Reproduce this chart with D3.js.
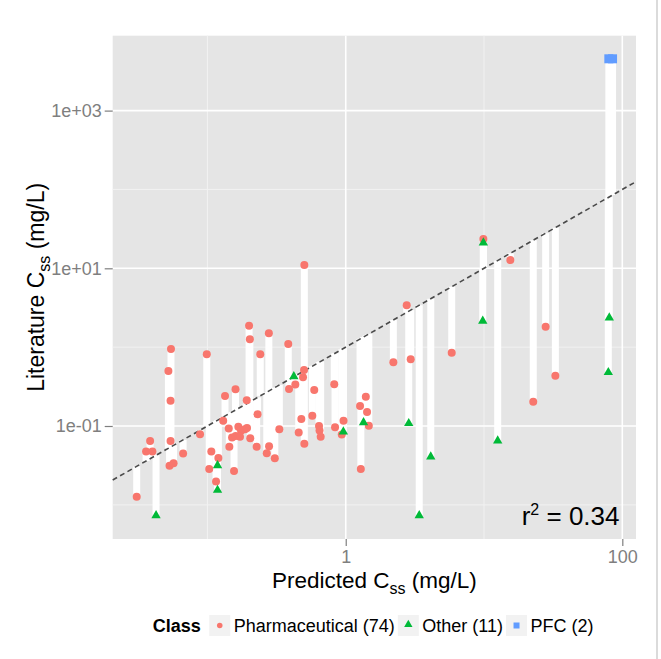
<!DOCTYPE html>
<html><head><meta charset="utf-8">
<script src="https://cdn.jsdelivr.net/npm/d3@7"></script>
<style>body{margin:0;background:#fff}svg{display:block}text{font-family:"Liberation Sans",Arial,sans-serif}</style>
</head><body><svg id="c" width="661" height="659"></svg>
<script>
// ---- data (Predicted Css vs Literature Css, mg/L) ----
const pharmaPred = [0.0308,0.0385,0.036,0.040,0.0545,0.0522,0.0541,0.0541,0.0532,0.0569,
  0.0667,0.0989,0.0884,0.1067,0.103,0.120,0.1154,0.134,0.130,0.1426,
  0.1507,0.144,0.1596,0.1557,0.200,0.2026,0.278,0.241,0.1924,0.2303,
  0.1673,0.187,0.175,0.160,0.172,0.204,0.227,0.279,0.2685,0.307,
  0.331,0.384,0.502,0.4995,0.491,0.432,0.389,0.592,0.4775,0.5734,
  0.457,0.502,0.826,0.641,0.6465,0.659,0.837,0.964,0.936,1.397,
  1.269,1.426,1.469,1.286,2.76,2.21,2.95,5.84,9.89,15.5,
  22.7,27.9,32.8,0.1933];
const pharmaLit = [0.01268,0.0645,0.0475,0.0475,0.947,0.498,0.209,0.0645,0.0314,0.0336,
  0.0448,0.812,0.0787,0.0475,0.0285,0.0393,0.0198,0.240,0.1168,0.0929,
  0.0715,0.0546,0.293,0.0269,1.87,1.258,1.498,0.812,0.212,0.1407,
  0.098,0.0908,0.0872,0.0747,0.0732,0.0698,0.0546,0.0553,0.0451,0.039,
  0.0911,1.096,11.0,0.513,0.416,0.336,0.2946,0.286,0.1227,0.135,
  0.0827,0.0596,0.338,0.1,0.0877,0.0732,0.0963,0.1168,0.078,0.2353,
  0.1794,0.1506,0.1009,0.0285,3.39,0.642,0.701,0.85,23.5,12.7,
  0.203,1.817,0.4345,0.0943];
const otherPred = [0.0425,0.1183,0.1183,0.4215,0.961,1.345,2.855,3.40,4.12,9.89,9.79,12.56,80.5,79.2];
const otherLit  = [0.00733,0.0316,0.0154,0.4245,0.0847,0.1108,0.1082,0.00733,0.0408,21.1,2.147,0.0651,2.363,0.480];
const pfcPred = [79.9,85.0];
const pfcLit  = [4540,4540];

const classNames = ["Pharmaceutical (74)","Other (11)","PFC (2)"];
const classColors = ["#F8766D","#00BA38","#619CFF"];
const xMajor = [1,100], xMajorLabels = ["1","100"];
const xMinor = [0.1,10];
const yMajor = [0.1,10,1000], yMajorLabels = ["1e-01","1e+01","1e+03"];
const yMinor = [0.01,1,100];
const r2Value = "0.34";

// ---- layout ----
const svg = d3.select("#c");
const P = {l:112.7, r:636, t:35.7, b:539};
const x = d3.scaleLog().domain([0.02065,125.6]).range([P.l,P.r]);
const y = d3.scaleLog().domain([0.003689,8913]).range([P.b,P.t]);

svg.append("rect").attr("width",661).attr("height",659).attr("fill","#fff");
svg.append("line").attr("x1",657).attr("x2",657).attr("y1",0).attr("y2",659)
  .attr("stroke","#cfcfcf").attr("stroke-width",1.5);

// panel
svg.append("rect").attr("x",P.l).attr("y",P.t).attr("width",P.r-P.l).attr("height",P.b-P.t).attr("fill","#E5E5E5");
const grid = svg.append("g");
grid.selectAll(".vmin").data(xMinor).join("line").attr("x1",d=>x(d)).attr("x2",d=>x(d)).attr("y1",P.t).attr("y2",P.b)
  .attr("stroke","#F2F2F2").attr("stroke-width",1);
grid.selectAll(".hmin").data(yMinor).join("line").attr("y1",d=>y(d)).attr("y2",d=>y(d)).attr("x1",P.l).attr("x2",P.r)
  .attr("stroke","#F2F2F2").attr("stroke-width",1);
grid.selectAll(".vmaj").data(xMajor).join("line").attr("x1",d=>x(d)).attr("x2",d=>x(d)).attr("y1",P.t).attr("y2",P.b)
  .attr("stroke","#fff").attr("stroke-width",1.6);
grid.selectAll(".hmaj").data(yMajor).join("line").attr("y1",d=>y(d)).attr("y2",d=>y(d)).attr("x1",P.l).attr("x2",P.r)
  .attr("stroke","#fff").attr("stroke-width",1.6);

// combined data
const pts = [];
pharmaPred.forEach((v,i)=>pts.push({p:v,l:pharmaLit[i],c:0}));
otherPred.forEach((v,i)=>pts.push({p:v,l:otherLit[i],c:1}));
pfcPred.forEach((v,i)=>pts.push({p:v,l:pfcLit[i],c:2}));

// residual bars to identity line
svg.append("g").selectAll("line").data(pts).join("line")
  .attr("x1",d=>x(d.p)).attr("x2",d=>x(d.p)).attr("y1",d=>y(d.l)).attr("y2",d=>y(d.p))
  .attr("stroke","#fff").attr("stroke-width",7);

// identity line
const dom = x.domain();
svg.append("line").attr("x1",x(dom[0])).attr("y1",y(dom[0])).attr("x2",x(dom[1])).attr("y2",y(dom[1]))
  .attr("stroke","#4a4a4a").attr("stroke-width",1.6).attr("stroke-dasharray","5,3.5");

// points
const g = svg.append("g");
g.selectAll(".ph").data(pts.filter(d=>d.c===0)).join("circle")
  .attr("cx",d=>x(d.p)).attr("cy",d=>y(d.l)).attr("r",4).attr("fill",classColors[0]);
g.selectAll(".ot").data(pts.filter(d=>d.c===1)).join("path")
  .attr("transform",d=>`translate(${x(d.p)},${y(d.l)})`)
  .attr("d",d3.symbol(d3.symbolTriangle,38)).attr("fill",classColors[1]);
g.selectAll(".pf").data(pts.filter(d=>d.c===2)).join("path")
  .attr("transform",d=>`translate(${x(d.p)},${y(d.l)})`)
  .attr("d",d3.symbol(d3.symbolSquare,81)).attr("fill",classColors[2]);

// axes
const ax = svg.append("g").attr("transform",`translate(0,${P.b})`)
  .call(d3.axisBottom(x).tickValues(xMajor).tickFormat((d,i)=>xMajorLabels[i]).tickSize(7).tickPadding(4));
const ay = svg.append("g").attr("transform",`translate(${P.l},0)`)
  .call(d3.axisLeft(y).tickValues(yMajor).tickFormat((d,i)=>yMajorLabels[i]).tickSize(8).tickPadding(3));
[ax,ay].forEach(a=>{
  a.select(".domain").remove();
  a.selectAll("line").attr("stroke","#7F7F7F").attr("stroke-width",1.2);
  a.selectAll("text").attr("fill","#7F7F7F").style("font-size","18px").style("font-family","Liberation Sans, Arial, sans-serif");
});

// axis titles
const xt = svg.append("text").attr("x",(P.l+P.r)/2).attr("y",588).attr("text-anchor","middle")
  .style("font-size","22.5px").attr("fill","#000");
xt.append("tspan").text("Predicted C");
xt.append("tspan").attr("dy",6).style("font-size","16px").text("ss");
xt.append("tspan").attr("dy",-6).text(" (mg/L)");

const yt = svg.append("text").attr("transform",`translate(44,${(P.t+P.b)/2}) rotate(-90)`).attr("text-anchor","middle")
  .style("font-size","23px").attr("fill","#000");
yt.append("tspan").text("Literature C");
yt.append("tspan").attr("dy",6).style("font-size","16px").text("ss");
yt.append("tspan").attr("dy",-6).text(" (mg/L)");

// r^2 annotation
const rt = svg.append("text").attr("x",619.5).attr("y",525).attr("text-anchor","end").style("font-size","26px").attr("fill","#000");
rt.append("tspan").text("r");
rt.append("tspan").attr("dy",-10).style("font-size","16px").text("2");
rt.append("tspan").attr("dy",10).text(" = " + r2Value);

// legend
const lg = svg.append("g");
let lx = 152.7; const base = 631.7, keyTop = 615, key = 21;
const lt = lg.append("text").attr("x",lx).attr("y",base).style("font-size","18px").style("font-weight","bold").text("Class");
lx += lt.node().getComputedTextLength() + 8.5;
const shapes = [d3.symbolCircle, d3.symbolTriangle, d3.symbolSquare];
const sizes = [24, 30, 36];
classNames.forEach((name,i)=>{
  lg.append("rect").attr("x",lx).attr("y",keyTop).attr("width",key).attr("height",key).attr("fill","#F2F2F2");
  lg.append("path").attr("transform",`translate(${lx+key/2},${keyTop+key/2 - (i===1?1:0)})`)
    .attr("d",d3.symbol(shapes[i],sizes[i])).attr("fill",classColors[i]);
  lx += key + 3.5;
  const t = lg.append("text").attr("x",lx).attr("y",base).style("font-size","18px").text(name);
  lx += t.node().getComputedTextLength() + 3;
});
</script></body></html>
